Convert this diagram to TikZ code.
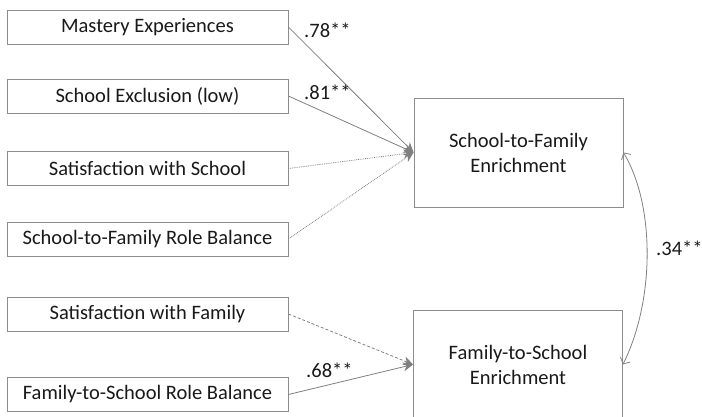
\documentclass[tikz,border=0pt]{standalone}
\usepackage{fontspec}
\setmainfont{Carlito}
\usetikzlibrary{arrows.meta}

\tikzset{
  predictor/.style={draw=black!45, line width=0.8pt, minimum width=281pt, minimum height=34pt, inner sep=0pt, text=black!90},
  outcome/.style={draw=black!45, line width=0.8pt, minimum width=209pt, minimum height=109pt, inner sep=0pt, align=center, text=black!90},
  effect/.style={draw=black!50, line width=0.8pt, -{Stealth[length=10pt,width=9pt]}},
  coef/.style={anchor=west, inner sep=0pt, text=black!90}
}

\begin{document}
\begin{tikzpicture}[x=1pt,y=-1pt,font=\fontsize{20.5}{25}\selectfont]
                \useasboundingbox (0,0) rectangle (702,417);
                \node[predictor] (mastery) at (147.5,27) {Mastery Experiences};
                \node[predictor] (exclusion) at (147.5,96) {School Exclusion (low)};
                \node[predictor] (satschool) at (147.5,168.5) {Satisfaction with School};
                \node[predictor] (sfbalance) at (147.5,239) {School-to-Family Role Balance};
                \node[predictor] (satfamily) at (147.5,314) {Satisfaction with Family};
                \node[predictor] (fsbalance) at (147.5,394.5) {Family-to-School Role Balance};
                \node[outcome] (sfe) at (518.5,152.5) {School-to-Family\\Enrichment};
                \node[outcome] (fse) at (518,364.5) {Family-to-School\\Enrichment};
                \draw[effect] (mastery.east) -- (sfe.west);
                \draw[effect] (exclusion.east) -- (sfe.west);
                \draw[effect, densely dotted] (satschool.east) -- (sfe.west);
                \draw[effect, densely dotted] (sfbalance.east) -- (sfe.west);
                \draw[effect, dashed, dash pattern=on 3pt off 2pt] (satfamily.east) -- (fse.west);
                \draw[effect] (fsbalance.east) -- (fse.west);
                % correlation between the two outcomes
                \draw[draw=black!50, line width=0.8pt, {Straight Barb[length=5pt,width=11pt]}-{Straight Barb[length=5pt,width=11pt]}]
                        (sfe.east) .. controls (655,205) and (655,300) .. (fse.east);
                \node[coef] (c78) at (304,30) {.78**};
                \node[coef] (c81) at (304,92) {.81**};
                \node[coef] (c68) at (306,370) {.68**};
                \node[coef] (c34) at (656,248) {.34**};
        \end{tikzpicture}
\end{document}
